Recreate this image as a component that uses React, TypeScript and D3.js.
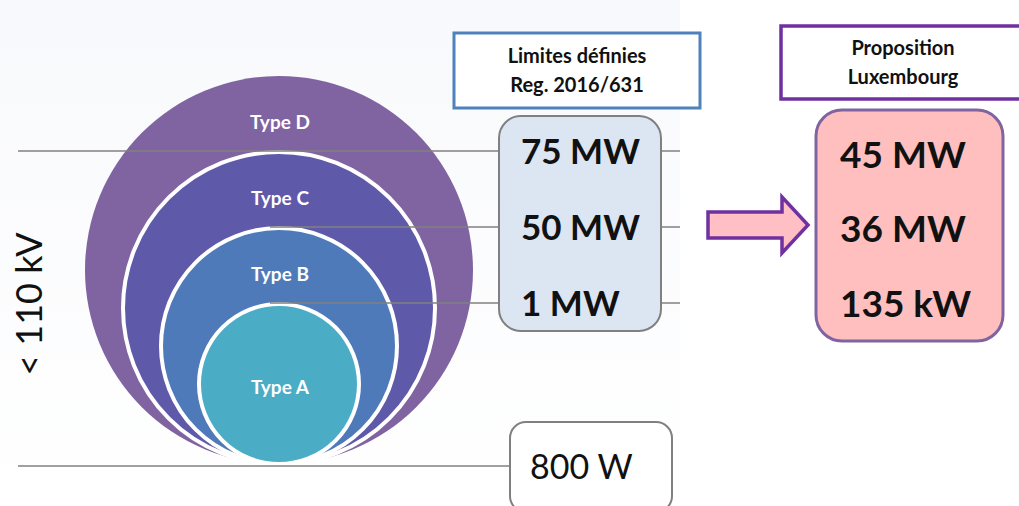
import React from "react";
import * as d3 from "d3";

const types = ["Type A", "Type B", "Type C", "Type D"];
const typeColors = ["#4BACC6", "#4F7AB9", "#5F59AA", "#8064A2"];
const regLimits = ["800 W", "1 MW", "50 MW", "75 MW"];
const luxProposal = ["135 kW", "36 MW", "45 MW"];
const regTitle = ["Limites définies", "Reg. 2016/631"];
const luxTitle = ["Proposition", "Luxembourg"];
const voltageLabel = "< 110 kV";

const W = 1019;
const H = 506;
const FONT = "Lato, 'Open Sans', sans-serif";

export default function App() {
  const cx = 279;
  const bottomY = 464;
  const rScale = d3.scaleLinear().domain([0, types.length - 1]).range([80, 194]);
  const topOf = (i: number) => bottomY - 2 * rScale(i);

  // y of threshold levels: 0 = bottom (800 W), others = tops of circles A, B, C
  const levelY = (i: number) => (i === 0 ? bottomY + 2 : topOf(i - 1) - 1);

  // proposal text baselines aligned with levels
  const propY = d3.scaleOrdinal<string, number>().domain(luxProposal).range([317, 242, 168]);

  const gray = "#808080";

  const arrow =
    d3.line()([
      [708, 212],
      [782, 212],
      [782, 197],
      [808, 225],
      [782, 253],
      [782, 238],
      [708, 238],
    ]) + "Z";

  return (
    <svg
      width={W}
      height={H}
      style={{ position: "absolute", left: 0, top: 0, background: "#fff" }}
      fontFamily={FONT}
    >
      <defs>
        <linearGradient id="bg" x1="0" y1="0" x2="0" y2="1">
          <stop offset="0" stopColor="#f8f9fc" />
          <stop offset="1" stopColor="#ffffff" />
        </linearGradient>
      </defs>
      <rect x={0} y={0} width={680} height={500} fill="url(#bg)" />

      {/* concentric circles, largest first */}
      {types
        .map((t, i) => i)
        .reverse()
        .map((i) => (
          <circle
            key={i}
            cx={cx}
            cy={bottomY - rScale(i)}
            r={rScale(i)}
            fill={typeColors[i]}
            stroke={i === types.length - 1 ? "none" : "#ffffff"}
            strokeWidth={4}
          />
        ))}

      {/* type labels */}
      {types.map((t, i) => (
        <text
          key={t}
          x={cx + 1}
          y={i === 0 ? bottomY - rScale(0) + 10 : topOf(i) + 53}
          fill="#ffffff"
          fontWeight="bold"
          fontSize={19}
          textAnchor="middle"
        >
          {t}
        </text>
      ))}

      {/* guide lines */}
      {regLimits.map((l, i) => {
        const y = levelY(i);
        const x1 = i === 0 || i === 3 ? 18 : 270;
        const x2 = i === 0 ? 512 : 680;
        return <line key={l} x1={x1} x2={x2} y1={y} y2={y} stroke={gray} strokeWidth={1.5} />;
      })}

      {/* vertical voltage label */}
      <text transform={`translate(42, 304) rotate(-90)`} textAnchor="middle" fontSize={36} fill="#111">
        {voltageLabel}
      </text>

      {/* reg title box */}
      <rect x={454} y={33} width={246} height={75} fill="#ffffff" stroke="#4F81BD" strokeWidth={3} />
      {regTitle.map((s, i) => (
        <text key={s} x={577} y={63 + i * 29} textAnchor="middle" fontWeight="bold" fontSize={20} fill="#111">
          {s}
        </text>
      ))}

      {/* reg values box */}
      <rect x={499} y={116} width={162} height={215} rx={22} fill="#DCE6F2" stroke={gray} strokeWidth={2} />
      {regLimits.slice(1).map((v, k) => (
        <text key={v} x={521} y={levelY(k + 1) + 13} fontWeight="bold" fontSize={35} fill="#111">
          {v}
        </text>
      ))}

      {/* 800 W box */}
      <rect x={510} y={422} width={162} height={90} rx={16} fill="#ffffff" stroke={gray} strokeWidth={2} />
      <text x={530} y={479} fontSize={34} fill="#111">
        {regLimits[0]}
      </text>

      {/* arrow */}
      <path d={arrow} fill="#FFBFC5" stroke="#7030A0" strokeWidth={3.5} strokeLinejoin="miter" />

      {/* lux title box */}
      <rect x={781} y={26} width={250} height={73} fill="#ffffff" stroke="#7030A0" strokeWidth={3.5} />
      {luxTitle.map((s, i) => (
        <text key={s} x={903} y={55 + i * 29} textAnchor="middle" fontWeight="bold" fontSize={20} fill="#111">
          {s}
        </text>
      ))}

      {/* lux values box */}
      <rect x={816} y={110} width={187} height={231} rx={26} fill="#FFBFBF" stroke="#8064A2" strokeWidth={3} />
      {luxProposal.map((v) => (
        <text key={v} x={840} y={propY(v)} fontWeight="bold" fontSize={37} fill="#111">
          {v}
        </text>
      ))}
    </svg>
  );
}
